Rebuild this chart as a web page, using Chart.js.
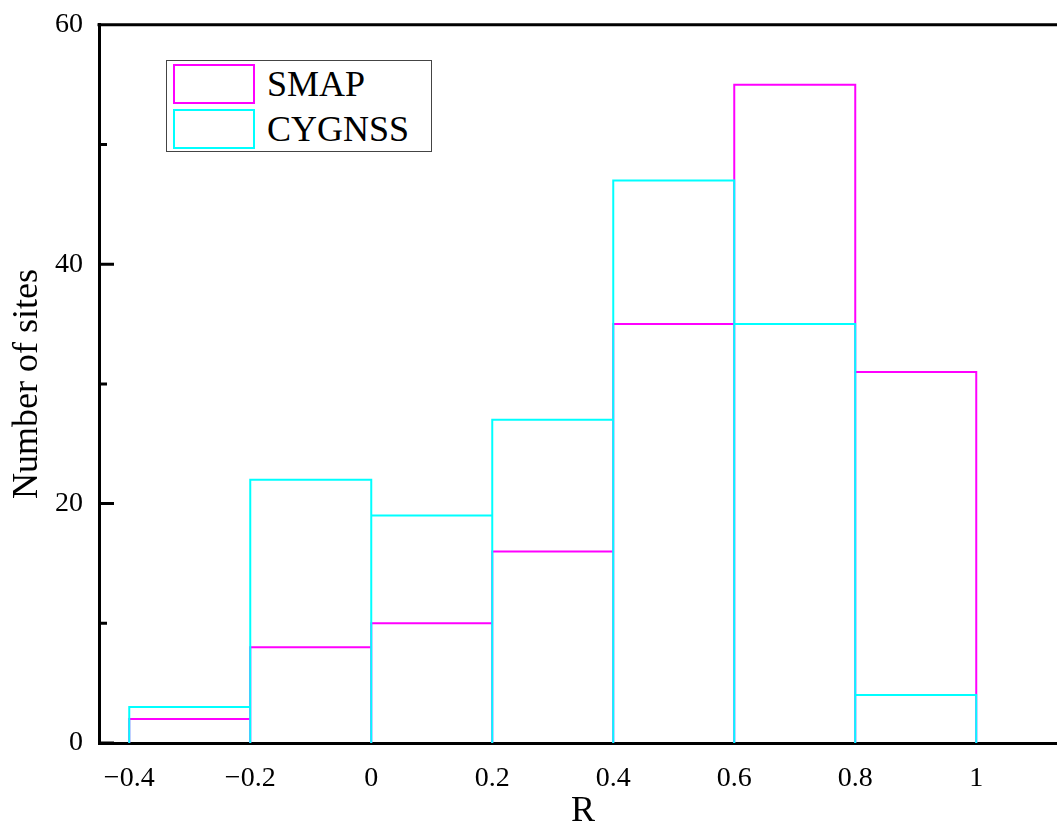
<!DOCTYPE html>
<html>
<head>
<meta charset="utf-8">
<script src="https://cdn.jsdelivr.net/npm/chart.js@4/dist/chart.umd.min.js"></script>
<style>
  html, body { margin: 0; padding: 0; background: #fff; overflow: hidden; }
  #wrap { position: relative; width: 1080px; height: 823px; }
  .legend {
    position: absolute; left: 166px; top: 60px; width: 264px; height: 90px;
    border: 1.5px solid #444; background: #fff;
    font-family: "Liberation Serif", "Times New Roman", serif; font-size: 36px; color: #000;
  }
  .legend .item { position: absolute; left: 6px; height: 42px; display: flex; align-items: center; }
  .legend .swatch { width: 82px; height: 40px; box-sizing: border-box; border: 2.5px solid; margin-right: 12px; }
</style>
</head>
<body>
<div id="wrap">
  <canvas id="chart" width="1080" height="823"></canvas>
  <div class="legend">
    <div class="item" style="top:2px"><div class="swatch" style="border-color:#ff00ff"></div>SMAP</div>
    <div class="item" style="top:47px"><div class="swatch" style="border-color:#00ffff"></div>CYGNSS</div>
  </div>
</div>
<script>
// histogram bins (R) and counts
const binEdges = [-0.4, -0.2, 0, 0.2, 0.4, 0.6, 0.8, 1.0];
const smapCounts = [2, 8, 10, 16, 35, 55, 31];
const cygnssCounts = [3, 22, 19, 27, 47, 35, 4];

const xTicks = [-0.4, -0.2, 0, 0.2, 0.4, 0.6, 0.8, 1];
const yMajor = [0, 20, 40, 60];
const yMinor = [10, 30, 50];

const FONT = '"Liberation Serif", "Times New Roman", serif';

// each bin as a closed box outline (up, across, down)
function outline(counts) {
    const pts = [];
    counts.forEach((c, i) => {
        const a = binEdges[i], b = binEdges[i + 1];
        pts.push({ x: a, y: 0 }, { x: a, y: c }, { x: b, y: c }, { x: b, y: 0 });
    });
    return pts;
}

// top frame line + inward y ticks
const axisDeco = {
    id: 'axisDeco',
    afterDraw(chart) {
        const { ctx, chartArea: { left, right, top }, scales: { y } } = chart;
        ctx.save();
        ctx.strokeStyle = '#000';
        ctx.lineWidth = 3;
        ctx.beginPath();
        ctx.moveTo(left - 1.5, top);
        ctx.lineTo(right, top);
        yMajor.forEach(v => {
            const py = y.getPixelForValue(v);
            ctx.moveTo(left, py);
            ctx.lineTo(left + 15, py);
        });
        yMinor.forEach(v => {
            const py = y.getPixelForValue(v);
            ctx.moveTo(left, py);
            ctx.lineTo(left + 8, py);
        });
        ctx.stroke();
        ctx.restore();
    }
};

new Chart(document.getElementById('chart'), {
    type: 'line',
    data: {
        datasets: [
            {
                label: 'SMAP',
                data: outline(smapCounts),
                borderColor: '#ff00ff',
                borderWidth: 2,
                pointRadius: 0,
                tension: 0,
                fill: false,
                borderJoinStyle: 'miter',
                order: 1
            },
            {
                label: 'CYGNSS',
                data: outline(cygnssCounts),
                borderColor: '#00ffff',
                borderWidth: 2,
                pointRadius: 0,
                tension: 0,
                fill: false,
                borderJoinStyle: 'miter',
                order: 0
            }
        ]
    },
    options: {
        responsive: false,
        animation: false,
        layout: { padding: { top: 17, right: 13, left: 0, bottom: 0 } },
        plugins: { legend: { display: false }, tooltip: { enabled: false } },
        scales: {
            x: {
                type: 'linear',
                min: -0.45,
                max: 1.15,
                afterBuildTicks: (scale) => { scale.ticks = xTicks.map(v => ({ value: v })); },
                afterFit: (scale) => { scale.height = 80; },
                grid: { display: false },
                border: { display: true, color: '#000', width: 3 },
                ticks: {
                    color: '#000',
                    font: { family: FONT, size: 28 },
                    padding: 11,
                    autoSkip: false,
                    maxRotation: 0,
                    callback: (v) => v < 0 ? '\u2212' + Math.abs(v) : String(v)
                },
                title: {
                    display: true,
                    text: 'R',
                    color: '#000',
                    font: { family: FONT, size: 36, lineHeight: 0.65 },
                    padding: 0
                }
            },
            y: {
                min: 0,
                max: 60,
                afterBuildTicks: (scale) => { scale.ticks = yMajor.map(v => ({ value: v })); },
                afterFit: (scale) => { scale.width = 99; },
                grid: { display: false },
                border: { display: true, color: '#000', width: 3 },
                ticks: {
                    color: '#000',
                    font: { family: FONT, size: 28 },
                    padding: 8
                },
                title: {
                    display: true,
                    text: 'Number of sites',
                    color: '#000',
                    font: { family: FONT, size: 36 },
                    padding: { top: 6, bottom: 0 }
                }
            }
        }
    },
    plugins: [axisDeco]
});
</script>
</body>
</html>
